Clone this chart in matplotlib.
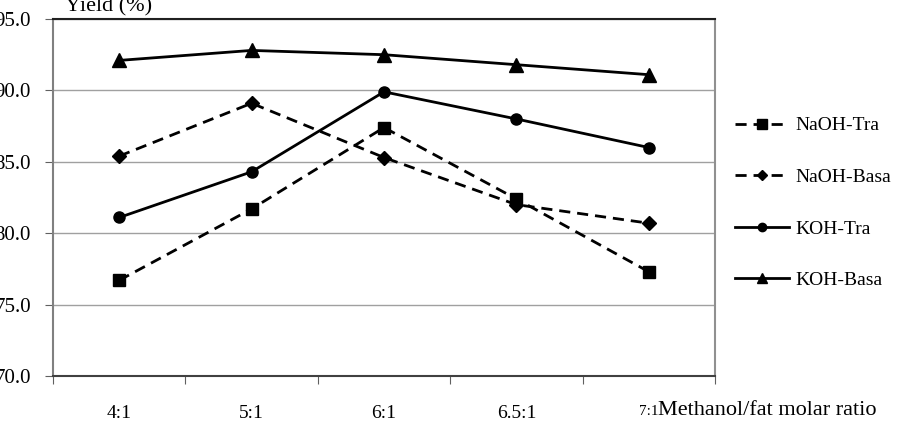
import matplotlib.pyplot as plt
import numpy as np

# yield (%) for each methanol/fat molar ratio
ratios = ["4:1", "5:1", "6:1", "6.5:1", "7:1"]
naoh_tra = [76.7, 81.7, 87.4, 82.4, 77.3]
naoh_basa = [85.4, 89.1, 85.3, 82.0, 80.7]
koh_tra = [81.1, 84.3, 89.9, 88.0, 86.0]
koh_basa = [92.1, 92.8, 92.5, 91.8, 91.1]

series = [
    ("NaOH-Tra", naoh_tra, "--", "s", 9),
    ("NaOH-Basa", naoh_basa, "--", "D", 7),
    ("KOH-Tra", koh_tra, "-", "o", 8),
    ("KOH-Basa", koh_basa, "-", "^", 10),
]

plt.rcParams['font.family'] = ['Liberation Serif', 'DejaVu Serif']

fig = plt.figure(figsize=(8.99, 4.23), dpi=100)
ax = fig.add_axes([53/899, 47/423, (715-53)/899, (376-19)/423])

x = np.arange(len(ratios))
for name, vals, ls, mk, ms in series:
    ax.plot(x, vals, linestyle=ls, marker=mk, markersize=ms, color="black",
            linewidth=2, dashes=(4, 2.5) if ls == "--" else (None, None),
            label=name)

ax.set_xlim(-0.5, len(ratios) - 0.5)
ax.set_ylim(70, 95)
ax.set_yticks(np.arange(70, 95.1, 5))
ax.set_yticklabels([f"{v:.1f}" for v in np.arange(70, 95.1, 5)], fontsize=15)
ax.yaxis.grid(True, color="#a0a0a0", linewidth=1)
ax.set_axisbelow(True)

ax.set_xticks(np.arange(-0.5, len(ratios)), minor=False)
ax.set_xticklabels([])
ax.set_xticks(x, minor=True)
ax.set_xticklabels(ratios, minor=True, fontsize=14)
for lab in ax.get_xticklabels(minor=True)[-1:]:
    lab.set_fontsize(11)
ax.tick_params(axis="x", which="minor", length=0, pad=21)
ax.tick_params(axis="x", which="major", length=6, color="#606060")
ax.tick_params(axis="y", length=6, color="#606060", pad=10)

ax.spines["left"].set_color("#808080")
ax.spines["right"].set_color("#909090")
ax.spines["bottom"].set_color("#404040")
ax.spines["top"].set_color("#202020")
for s in ax.spines.values():
    s.set_linewidth(1.5)

fig.text(65/899, 1 - 11/423, "Yield (%)", fontsize=16, va="baseline", ha="left")
fig.text(658/899, 1 - 410/423, "Methanol/fat molar ratio", fontsize=16,
         va="center", ha="left")

leg = ax.legend(loc="center left", bbox_to_anchor=(717/899, 1 - 203/423),
                bbox_transform=fig.transFigure, frameon=False, fontsize=14,
                handlelength=2.8, labelspacing=1.75, handletextpad=0.35,
                markerscale=0.75)

fig.savefig("out.png", dpi=100)
